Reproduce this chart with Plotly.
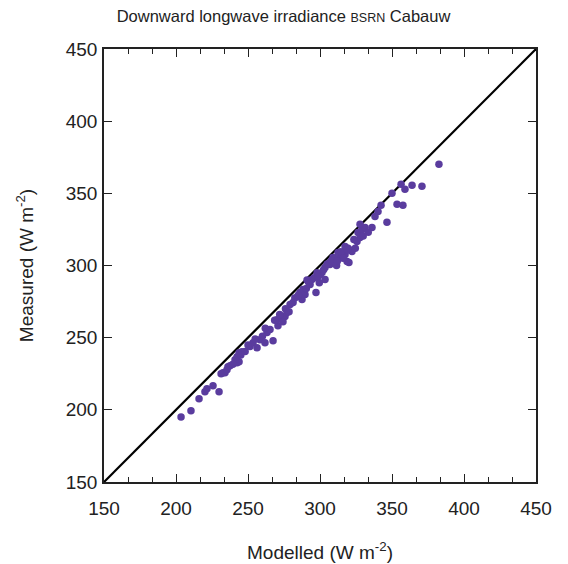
import plotly.graph_objects as go

# Modelled (x) and measured (y) downward longwave irradiance, W m-2
modelled = [
    203.5, 210.4, 216.0, 220.1, 221.5, 225.7, 229.9, 231.3, 234.0, 236.1, 237.5, 242.4, 243.8,
    232.6, 235.4, 241.0, 242.4, 243.8, 245.8, 251.4, 253.5, 256.3, 258.3, 261.8, 263.2, 265.3,
    267.4, 270.8, 273.6, 275.7, 277.1,
    270.1, 274.3, 279.2, 281.3, 286.1, 288.2, 287.5, 289.6, 293.1, 297.2, 294.4, 300.0, 301.4,
    303.5, 303.5, 306.9, 310.4, 313.9, 317.4, 318.8,
    306.9, 309.0, 312.5, 315.3, 317.4, 320.1, 322.2, 325.7, 327.8, 326.4, 329.2, 331.3, 327.8,
    336.1, 338.2, 340.3, 342.4, 346.5, 353.5,
    350.0, 357.6, 356.3, 359.0, 363.9, 370.8, 382.6,
    248.0, 250.0, 255.0, 260.0, 262.0, 268.5, 272.0, 276.0, 278.5, 282.5, 284.5, 290.5, 292.0,
    296.0, 298.0, 299.5, 302.5, 305.0, 308.0, 311.5, 314.5, 316.0, 319.5, 321.0, 323.5, 324.5,
    330.0, 333.5, 245.0, 239.5, 285.0, 291.0, 298.5, 312.0, 319.0,
]
measured = [
    195.1, 199.3, 207.6, 212.5, 214.6, 216.7, 212.5, 225.0, 225.7, 229.9, 230.6, 232.6, 233.3,
    225.7, 227.8, 234.7, 236.8, 239.6, 240.3, 243.8, 246.5, 243.1, 248.6, 246.5, 253.5, 255.6,
    247.9, 258.3, 264.6, 264.6, 267.4,
    262.5, 261.1, 272.9, 274.3, 281.3, 283.3, 276.4, 279.9, 286.8, 281.3, 290.3, 293.8, 295.1,
    290.3, 298.6, 300.7, 304.2, 306.3, 307.6, 302.8,
    302.1, 305.6, 309.0, 307.6, 313.2, 302.1, 309.7, 316.7, 319.4, 322.9, 325.0, 326.4, 328.5,
    326.4, 334.0, 337.5, 341.7, 329.9, 342.4,
    350.0, 341.7, 356.3, 352.8, 355.6, 354.9, 370.1,
    240.5, 245.0, 249.0, 251.0, 256.5, 262.0, 266.0, 270.0, 268.0, 277.5, 278.5, 284.0, 288.5,
    291.5, 295.0, 288.0, 297.0, 301.0, 303.5, 300.0, 309.5, 305.0, 312.0, 310.5, 318.0, 312.0,
    320.5, 323.0, 238.0, 231.5, 279.5, 290.0, 292.0, 303.0, 311.0,
]

line_range = [150, 450]
tick_vals = [150, 200, 250, 300, 350, 400, 450]

fig = go.Figure()
fig.add_trace(go.Scatter(
    x=line_range, y=line_range, mode="lines",
    line=dict(color="black", width=2.2), hoverinfo="skip", showlegend=False,
))
fig.add_trace(go.Scatter(
    x=modelled, y=measured, mode="markers",
    marker=dict(color="#5a3c9e", size=7.5, line=dict(width=0)),
    showlegend=False,
))

font_family = "Liberation Sans, Arial, sans-serif"
fig.update_layout(
    width=560, height=556,
    margin=dict(l=96, r=32, t=41, b=82),
    plot_bgcolor="white", paper_bgcolor="white",
    font=dict(family=font_family, size=19, color="#222"),
    title=dict(
        text="Downward longwave irradiance <span style='font-size:12.5px'>BSRN</span> Cabauw",
        x=0.492, xanchor="center", y=0.985, yanchor="middle",
        font=dict(family=font_family, size=16.5, color="#222"),
    ),
)
fig.update_xaxes(
    range=line_range, tickvals=tick_vals, ticks="inside", ticklen=8, tickwidth=1.2,
    tickcolor="#222", showline=True, linecolor="#222", linewidth=1.6, mirror="allticks",
    showgrid=False, zeroline=False, automargin=False, ticklabelstandoff=8,
    minor=dict(ticks="inside", ticklen=5, tickwidth=1, tickcolor="#222",
               tick0=150, dtick=50 / 3, showgrid=False),
    title=dict(text="Modelled (W m<sup>-2</sup>)", standoff=28, font=dict(size=19)),
)
fig.update_yaxes(
    range=line_range, tickvals=tick_vals, ticks="inside", ticklen=8, tickwidth=1.2,
    tickcolor="#222", showline=True, linecolor="#222", linewidth=1.6, mirror="allticks",
    showgrid=False, zeroline=False, automargin=False, ticklabelstandoff=1,
    title=dict(text="Measured (W m<sup>-2</sup>)", standoff=27, font=dict(size=19)),
)

fig.write_html("out.html")
